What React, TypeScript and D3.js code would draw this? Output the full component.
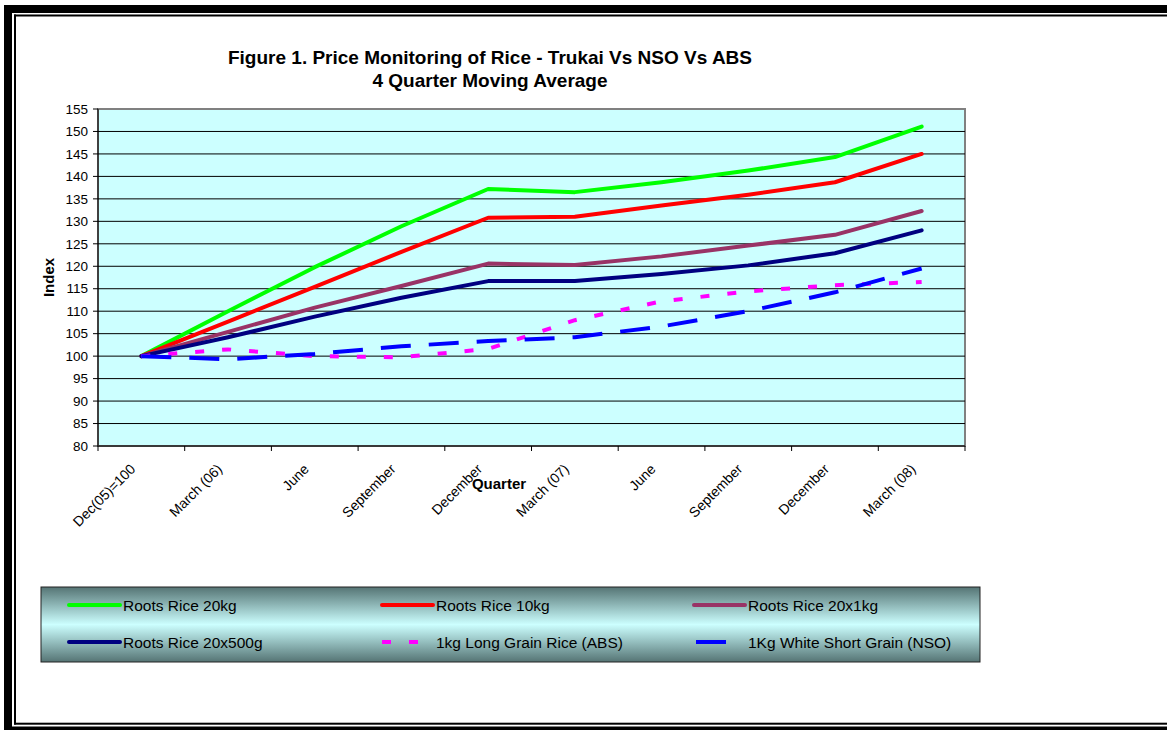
import React from "react";
import * as d3 from "d3";

// Quarter labels along the x axis (positions are by index; some names repeat)
const quarterLabels = [
  "Dec(05)=100",
  "March (06)",
  "June",
  "September",
  "December",
  "March (07)",
  "June",
  "September",
  "December",
  "March (08)",
];

// Index values, Dec 2005 = 100 (4 quarter moving average)
const rootsRice20kg = [100, 110, 119.8, 128.9, 137.2, 136.5, 138.7, 141.3, 144.3, 151.1];
const rootsRice10kg = [100, 107.7, 115.4, 123.2, 130.8, 131.0, 133.5, 135.9, 138.7, 145.0];
const rootsRice20x1kg = [100, 105.4, 110.8, 115.6, 120.6, 120.3, 122.2, 124.6, 127.0, 132.3];
const rootsRice20x500g = [100, 104.2, 108.8, 113.0, 116.7, 116.7, 118.3, 120.2, 122.9, 128.0];
const longGrainABS = [100, 101.5, 100.0, 99.75, 101.6, 108.0, 112.2, 114.4, 115.8, 116.5];
const whiteShortNSO = [100, 99.3, 100.5, 102.2, 103.35, 104.2, 106.6, 110.0, 114.2, 119.5];

const yTicks = [80, 85, 90, 95, 100, 105, 110, 115, 120, 125, 130, 135, 140, 145, 150, 155];

type Series = {
  name: string;
  values: number[];
  color: string;
  dash?: string;
};

const series: Series[] = [
  { name: "Roots Rice 20kg", values: rootsRice20kg, color: "#00ff00" },
  { name: "Roots Rice 10kg", values: rootsRice10kg, color: "#ff0000" },
  { name: "Roots Rice 20x1kg", values: rootsRice20x1kg, color: "#993366" },
  { name: "Roots Rice 20x500g", values: rootsRice20x500g, color: "#000080" },
  { name: "1kg Long Grain Rice (ABS)", values: longGrainABS, color: "#ff00ff", dash: "9,18" },
  { name: "1Kg White Short Grain (NSO)", values: whiteShortNSO, color: "#0000ff", dash: "30,18" },
];

const W = 1167;
const H = 730;
const plot = { left: 98, right: 965, top: 109, bottom: 446 };
const FONT = "'Liberation Sans', Arial, sans-serif";

export default function App() {
  const x = d3
    .scaleBand<number>()
    .domain(quarterLabels.map((_, i) => i))
    .range([plot.left, plot.right])
    .padding(0);
  const cx = (i: number) => (x(i) ?? 0) + x.bandwidth() / 2;
  const y = d3.scaleLinear().domain([80, 155]).range([plot.bottom, plot.top]);

  const line = d3
    .line<number>()
    .x((_, i) => cx(i))
    .y((v) => y(v));

  const boundaries = quarterLabels.map((_, i) => x(i) ?? 0).concat([plot.right]);

  // legend layout
  const legend = { x: 41, y: 587, w: 939, h: 75 };
  const legendCols = [69, 382, 694];
  const legendRows = [605, 642];

  return (
    <div style={{ position: "absolute", left: 0, top: 0 }}>
      <svg width={W} height={H} style={{ display: "block", background: "#fff" }}>
        <defs>
          <linearGradient id="legendFill" x1="0" y1="0" x2="0" y2="1">
            <stop offset="0%" stopColor="#557474" />
            <stop offset="50%" stopColor="#ccffff" />
            <stop offset="100%" stopColor="#557474" />
          </linearGradient>
        </defs>

        {/* double frame */}
        <rect x={4} y={5} width={W - 4} height={8} fill="#000" />
        <rect x={4} y={5} width={8} height={H - 5} fill="#000" />
        <rect x={4} y={726.5} width={W - 4} height={4} fill="#000" />
        <rect x={14} y={14.5} width={W - 14} height={2} fill="#000" />
        <rect x={14} y={14.5} width={2} height={710} fill="#000" />
        <rect x={14} y={722.7} width={W - 14} height={2} fill="#000" />

        {/* title */}
        <text x={490} y={64} textAnchor="middle" fontFamily={FONT} fontWeight="bold" fontSize={19} fill="#000">
          Figure 1. Price Monitoring of Rice - Trukai Vs NSO Vs ABS
        </text>
        <text x={490} y={87} textAnchor="middle" fontFamily={FONT} fontWeight="bold" fontSize={19} fill="#000">
          4 Quarter Moving Average
        </text>

        {/* plot area */}
        <rect
          x={plot.left}
          y={plot.top}
          width={plot.right - plot.left}
          height={plot.bottom - plot.top}
          fill="#ccffff"
          stroke="#808080"
          strokeWidth={2}
        />

        {/* gridlines */}
        {yTicks
          .filter((t) => t > 80 && t < 155)
          .map((t) => (
            <line key={`g${t}`} x1={plot.left} x2={plot.right} y1={y(t)} y2={y(t)} stroke="#000" strokeWidth={1} />
          ))}

        {/* y axis */}
        <line x1={plot.left} x2={plot.left} y1={plot.top} y2={plot.bottom} stroke="#000" strokeWidth={1} />
        {yTicks.map((t) => (
          <g key={`yt${t}`}>
            <line x1={plot.left - 5} x2={plot.left} y1={y(t)} y2={y(t)} stroke="#000" strokeWidth={1} />
            <text
              x={plot.left - 10}
              y={y(t)}
              dy="0.35em"
              textAnchor="end"
              fontFamily={FONT}
              fontSize={13.5}
              fill="#000"
            >
              {t}
            </text>
          </g>
        ))}

        {/* x axis */}
        <line x1={plot.left} x2={plot.right} y1={plot.bottom} y2={plot.bottom} stroke="#222" strokeWidth={1.5} />
        {boundaries.map((bx, i) => (
          <line key={`xt${i}`} x1={bx} x2={bx} y1={plot.bottom} y2={plot.bottom + 5} stroke="#000" strokeWidth={1} />
        ))}
        {quarterLabels.map((lab, i) => (
          <text
            key={`xl${i}`}
            transform={`translate(${cx(i) - 5},${470}) rotate(-45)`}
            textAnchor="end"
            fontFamily={FONT}
            fontSize={14}
            fill="#000"
          >
            {lab}
          </text>
        ))}

        {/* axis titles */}
        <text x={499} y={489} textAnchor="middle" fontFamily={FONT} fontWeight="bold" fontSize={15} fill="#000">
          Quarter
        </text>
        <text
          transform={`translate(54,${(plot.top + plot.bottom) / 2}) rotate(-90)`}
          textAnchor="middle"
          fontFamily={FONT}
          fontWeight="bold"
          fontSize={15}
          fill="#000"
        >
          Index
        </text>

        {/* series */}
        {series.map((s) => (
          <path
            key={s.name}
            d={line(s.values) ?? ""}
            fill="none"
            stroke={s.color}
            strokeWidth={4}
            strokeDasharray={s.dash}
            strokeLinecap={s.dash ? "butt" : "round"}
            strokeLinejoin="round"
          />
        ))}

        {/* legend */}
        <rect
          x={legend.x}
          y={legend.y}
          width={legend.w}
          height={legend.h}
          fill="url(#legendFill)"
          stroke="#222"
          strokeWidth={1}
        />
        {series.map((s, i) => {
          const lx = legendCols[i % 3];
          const ly = legendRows[Math.floor(i / 3)];
          const len = s.dash ? (s.dash === "9,18" ? 37 : 32) : 51;
          const off = s.dash === "30,18" ? 2 : 0;
          return (
            <g key={`lg${i}`}>
              <line
                x1={lx + off}
                x2={lx + off + len}
                y1={ly}
                y2={ly}
                stroke={s.color}
                strokeWidth={4}
                strokeDasharray={s.dash}
                strokeLinecap={s.dash ? "butt" : "round"}
              />
              <text x={lx + 54} y={ly} dy="0.36em" fontFamily={FONT} fontSize={15.5} fill="#000">
                {s.name}
              </text>
            </g>
          );
        })}
      </svg>
    </div>
  );
}
